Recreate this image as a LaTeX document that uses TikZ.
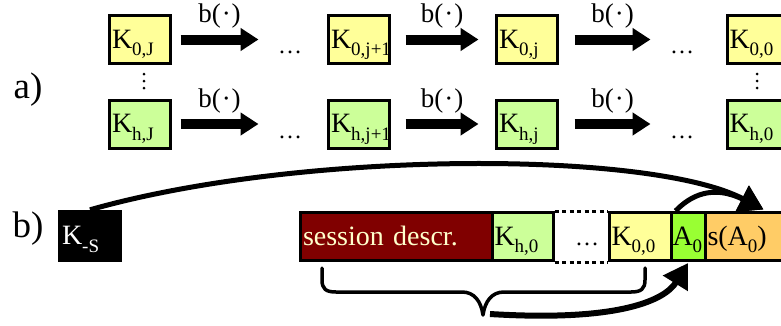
\documentclass[tikz,border=0pt]{standalone}
\usepackage{fontspec}
\setmainfont{Liberation Serif}
\usetikzlibrary{arrows.meta}
\definecolor{kyel}{HTML}{FFFF99}
\definecolor{kgrn}{HTML}{CCFF99}
\definecolor{agrn}{HTML}{99FF33}
\definecolor{sorg}{HTML}{FFCC66}
\definecolor{dred}{HTML}{800000}
\definecolor{cream}{HTML}{FFFFCC}
\newcommand{\sbs}[1]{\raisebox{-7.5pt}{\fontsize{19}{19}\selectfont #1}}
\begin{document}
\begin{tikzpicture}[x=1pt,y=-1pt,
  kbox/.style={draw=black, line width=3pt, minimum height=48pt, inner xsep=2.5pt, inner ysep=0pt,
    text width=#1, align=left, text height=20pt, text depth=3pt, font=\fontsize{28}{30}\selectfont},
  kbox/.default=56pt,
  barrow/.style={line width=10pt, -{Triangle[width=22pt,length=18pt]}},
  blbl/.style={font=\fontsize{27}{28}\selectfont, inner sep=0pt},
  ell/.style={font=\fontsize{24}{26}\selectfont, inner sep=0pt},
  part/.style={font=\fontsize{37}{40}\selectfont, inner sep=0pt},
  curvearrow/.style={line width=5pt, -{Triangle[width=28pt,length=24pt]}},
  dotline/.style={line width=3pt, dash pattern=on 4pt off 3.5pt},
  bracestyle/.style={line width=3.5pt, line cap=round, line join=round},
  vdot/.style={fill=black, draw=none, circle, inner sep=0pt, minimum size=3pt}
]
\useasboundingbox (0,0) rectangle (781,325);
\begin{scope}
\clip (0,0) rectangle (781,325);
% ---------- part a ----------
\node[part] (la) at (28,90) {a)};
\node[kbox, fill=kyel] (K0J)  at (140,39.5) {K\sbs{0,J}};
\node[kbox, fill=kyel] (K0j1) at (359,39.5) {K\sbs{0,j+1}};
\node[kbox, fill=kyel] (K0j)  at (527,39.5) {K\sbs{0,j}};
\node[kbox, fill=kyel] (K00)  at (757.5,39.5) {K\sbs{0,0}};
\node[kbox, fill=kgrn] (KhJ)  at (140,124) {K\sbs{h,J}};
\node[kbox, fill=kgrn] (Khj1) at (359,124) {K\sbs{h,j+1}};
\node[kbox, fill=kgrn] (Khj)  at (527,124) {K\sbs{h,j}};
\node[kbox, fill=kgrn] (Kh0)  at (757.5,124) {K\sbs{h,0}};
\node[ell] (e1) at (290,52) {…};
\node[ell] (e2) at (682,52) {…};
\node[ell] (e3) at (290,137) {…};
\node[ell] (e4) at (682,137) {…};
\foreach \yy in {74,81,88}{
  \node[vdot] at (144,\yy) {};
  \node[vdot] at (757,\yy) {};
}
\draw[barrow] ([xshift=8.5pt]K0J.east) -- ([xshift=86.5pt]K0J.east)
  node[blbl, midway, yshift=23pt] {b(\kern1pt·\kern1pt)};
\draw[barrow] ([xshift=14.5pt]K0j1.east) -- ([xshift=-16.5pt]K0j.west)
  node[blbl, midway, yshift=23pt] {b(\kern1pt·\kern1pt)};
\draw[barrow] ([xshift=15.5pt]K0j.east) -- ([xshift=91.5pt]K0j.east)
  node[blbl, midway, yshift=23pt] {b(\kern1pt·\kern1pt)};
\draw[barrow] ([xshift=8.5pt]KhJ.east) -- ([xshift=86.5pt]KhJ.east)
  node[blbl, midway, yshift=22.5pt] {b(\kern1pt·\kern1pt)};
\draw[barrow] ([xshift=14.5pt]Khj1.east) -- ([xshift=-16.5pt]Khj.west)
  node[blbl, midway, yshift=22.5pt] {b(\kern1pt·\kern1pt)};
\draw[barrow] ([xshift=15.5pt]Khj.east) -- ([xshift=91.5pt]Khj.east)
  node[blbl, midway, yshift=22.5pt] {b(\kern1pt·\kern1pt)};
% ---------- part b ----------
\node[part] (lb) at (28,229) {b)};
\node[fill=black, minimum width=64pt, minimum height=52pt, inner xsep=4pt, inner ysep=0pt,
  text width=56pt, align=left, text height=20pt, text depth=3pt, text=white,
  font=\fontsize{28}{30}\selectfont] (ks) at (90,236) {K\sbs{-S}};
\node[kbox=186.5pt, fill=dred, text=cream] (sess) at (396.25,236.5) {session descr.};
\node[kbox=56pt, fill=kgrn] (kh0) at (522.5,236.5) {K\sbs{h,0}};
\node[kbox=57pt, fill=kyel] (k00) at (640,236.5) {K\sbs{0,0}};
\node[kbox=31pt, fill=agrn, inner xsep=1.5pt] (a0) at (688,236.5) {A\sbs{0}};
\node[kbox=90pt, fill=sorg] (sa0) at (752.5,236.5) {s(A\sbs{0})};
\node[ell, text height=20pt, text depth=3pt] (dts) at (587,236.5) {…};
\draw[dotline] (kh0.north east) -- (k00.north west);
\draw[dotline] (kh0.south east) -- (k00.south west);
% brace
\coordinate (btip) at (483,315);
\draw[bracestyle] (322,268) -- (322,280) .. controls (322,289) and (326,292) .. (336,292)
  -- (462,292) .. controls (474,292) and (481,301) .. (btip)
  .. controls (485,301) and (492,292) .. (504,292)
  -- (631,292) .. controls (641,292) and (645,289) .. (645,280) -- (645,268);
% arrows
\coordinate (tip) at ([xshift=60pt,yshift=1.5pt]sa0.north west);
\draw[curvearrow] ([xshift=6pt]a0.north west) .. controls (690,196) and (712,184) .. (tip);
\draw[curvearrow] (ks.north) .. controls (300,150) and (650,150) .. (tip);
\draw[curvearrow, line width=6pt] ([xshift=7pt,yshift=1pt]btip) .. controls (620,322) and (665,300) .. ([yshift=-1pt]a0.south);
\end{scope}
\end{tikzpicture}
\end{document}
